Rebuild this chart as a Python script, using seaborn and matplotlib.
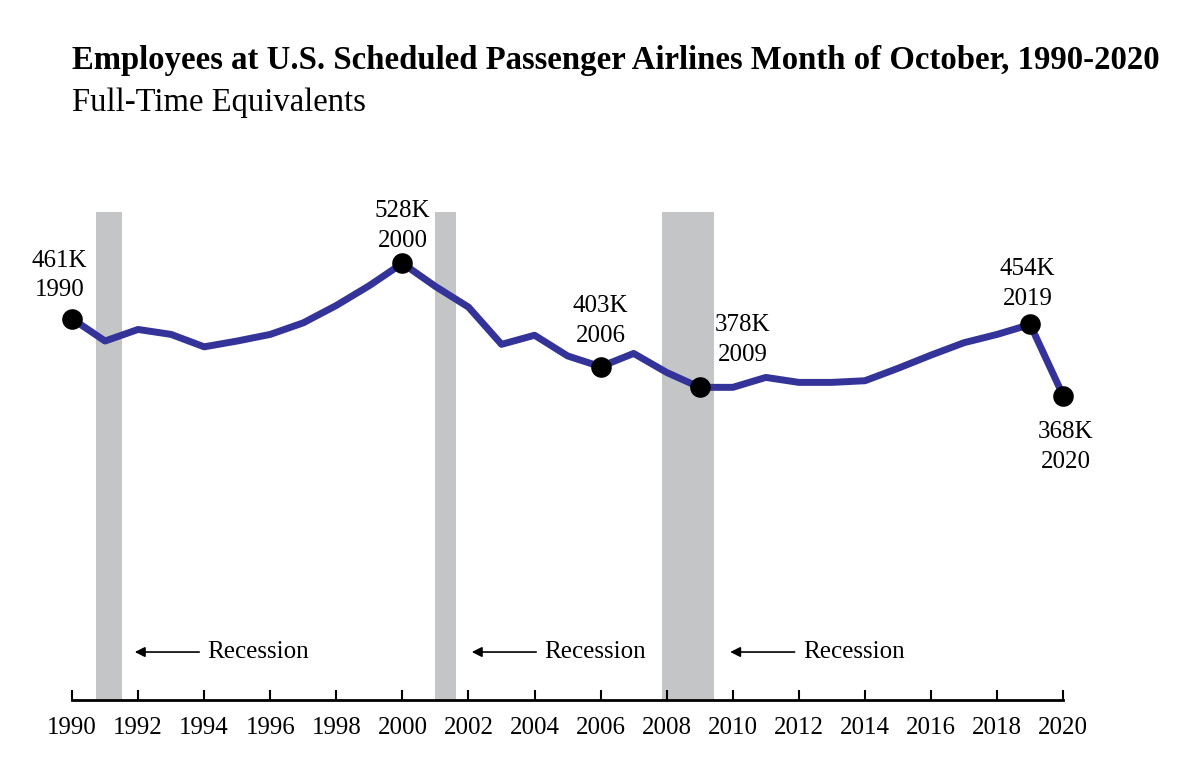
import numpy as np
import pandas as pd
import matplotlib
matplotlib.use("Agg")
import matplotlib.pyplot as plt
import seaborn as sns

# employees (thousands), month of October
years = list(range(1990, 2021))
employees = [461, 434, 448, 442, 427, 434, 442, 456, 477, 501,
             528, 500, 475, 430, 441, 416, 403, 419, 396, 378,
             378, 390, 384, 384, 386, 401, 417, 432, 442, 454, 368]

# highlighted points
hl_years = [1990, 2000, 2006, 2009, 2019, 2020]
hl_labels = ["461K\n1990", "528K\n2000", "403K\n2006", "378K\n2009", "454K\n2019", "368K\n2020"]

# recession periods (start, end) as fractional years
rec_start = [1990.72, 2001.0, 2007.87]
rec_end = [1991.51, 2001.63, 2009.44]

tick_years = list(range(1990, 2021, 2))

df = pd.DataFrame({"year": years, "employees": employees})
hl = df[df["year"].isin(hl_years)]

sns.set_style("white")
plt.rcParams['font.family'] = ['Liberation Serif', 'DejaVu Serif']
plt.rcParams['text.color'] = 'black'
plt.rcParams['xtick.color'] = 'black'

fig = plt.figure(figsize=(12, 7.68), dpi=100)
ax = fig.add_axes([0.06, 68 / 768, 0.826, 488 / 768])

for s, e in zip(rec_start, rec_end):
    ax.axvspan(s, e, color="#c4c5c7", lw=0, zorder=0)

sns.lineplot(data=df, x="year", y="employees", color="#33339a", lw=5, ax=ax, zorder=2)
sns.scatterplot(data=hl, x="year", y="employees", color="black", s=220, ax=ax, zorder=3,
                edgecolor="black", linewidth=0)
for c in ax.collections:
    c.set_clip_on(False)
for l in ax.lines:
    l.set_clip_on(False)

# label offsets in points (dx, dy) for each highlighted point
offs = [(-9, 31), (0, 27), (0, 33), (31, 34), (-2, 29), (2, -37)]
for (x, y), lab, (dx, dy) in zip(hl[["year", "employees"]].values, hl_labels, offs):
    ax.annotate(lab, (x, y), xytext=(dx, dy), textcoords="offset points",
                ha="center", va="center", fontsize=18, linespacing=1.45)

# recession arrows
arrow_tip = [1991.9, 2002.1, 2009.92]
for tip in arrow_tip:
    ax.annotate("", xy=(tip, 58), xytext=(tip + 1.95, 58),
                arrowprops=dict(arrowstyle="-|>", color="black", lw=1.2,
                                mutation_scale=15, shrinkA=0, shrinkB=0))
    ax.text(tip + 2.2, 58, "Recession", ha="left", va="center", fontsize=18)

ax.set_xlim(1990, 2020)
ax.set_ylim(0, 590)
ax.set_xticks(tick_years)
ax.set_xticklabels([str(t) for t in tick_years])
ax.set_yticks([])
ax.set_xlabel("")
ax.set_ylabel("")
for sp in ["top", "right", "left"]:
    ax.spines[sp].set_visible(False)
ax.spines["bottom"].set_linewidth(2)
ax.spines["bottom"].set_color("black")
ax.spines["bottom"].set_zorder(4)
ax.tick_params(axis="x", direction="in", length=7, width=1.5, color="black",
               labelsize=18, pad=12, bottom=True, labelcolor="black")
ax.patch.set_alpha(0)

fig.text(72 / 1200, 1 - 60 / 768, "Employees at U.S. Scheduled Passenger Airlines Month of October, 1990-2020",
         fontsize=23.6, fontweight="bold", ha="left", va="center")
fig.text(72 / 1200, 1 - 103 / 768, "Full-Time Equivalents", fontsize=23.5, ha="left", va="center")

fig.savefig("out.png", dpi=100)
